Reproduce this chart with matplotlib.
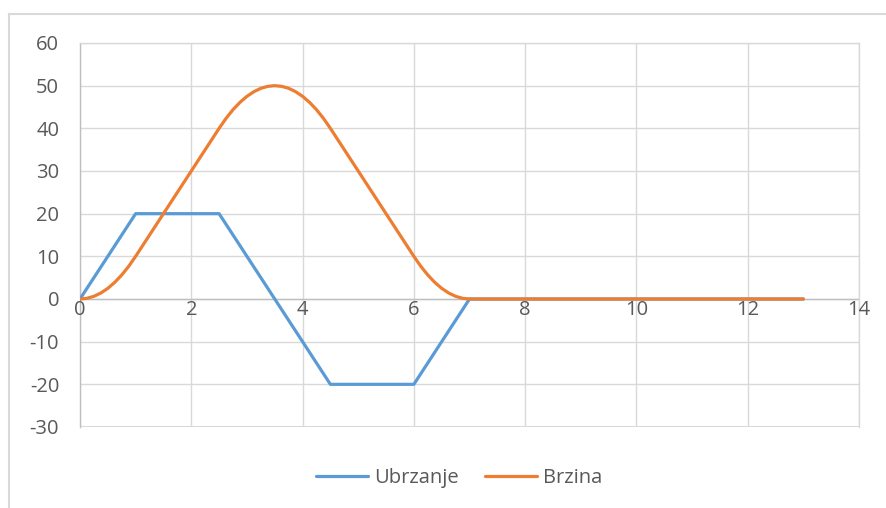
import matplotlib
matplotlib.use("Agg")
import matplotlib.pyplot as plt
from matplotlib.lines import Line2D

# Data
t_acc = [0, 1, 2.5, 4.5, 6, 7, 13]
ubrzanje = [0, 20, 20, -20, -20, 0, 0]

t_vel = [0, 0.125, 0.25, 0.375, 0.5, 0.625, 0.75, 0.875, 1,
         1.5, 2, 2.5,
         2.625, 2.75, 2.875, 3, 3.125, 3.25, 3.375, 3.5,
         3.625, 3.75, 3.875, 4, 4.125, 4.25, 4.375, 4.5,
         5, 5.5, 6,
         6.125, 6.25, 6.375, 6.5, 6.625, 6.75, 6.875, 7, 13]
brzina = [0, 0.16, 0.63, 1.41, 2.5, 3.91, 5.63, 7.66, 10,
          20, 30, 40,
          42.34, 44.38, 46.09, 47.5, 48.59, 49.38, 49.84, 50,
          49.84, 49.38, 48.59, 47.5, 46.09, 44.38, 42.34, 40,
          30, 20, 10,
          7.66, 5.63, 3.91, 2.5, 1.41, 0.63, 0.16, 0, 0]

x_ticks = [0, 2, 4, 6, 8, 10, 12, 14]
y_ticks = [-30, -20, -10, 0, 10, 20, 30, 40, 50, 60]

plt.rcParams['font.family'] = ['Open Sans', 'DejaVu Sans']
plt.rcParams['axes.unicode_minus'] = False

W, H = 887, 508
fig = plt.figure(figsize=(W / 100, H / 100), dpi=100)
ax = fig.add_axes([80 / W, (H - 427) / H, (859 - 80) / W, (427 - 43) / H])

grid_c = '#d9d9d9'
text_c = '#595959'
fs = 14.5

ax.plot(t_acc, ubrzanje, color='#5B9BD5', lw=2.3, label='Ubrzanje',
        solid_capstyle='round', solid_joinstyle='round', zorder=3)
ax.plot(t_vel, brzina, color='#ED7D31', lw=2.3, label='Brzina',
        solid_capstyle='round', solid_joinstyle='round', zorder=3)

ax.set_xlim(0, 14)
ax.set_ylim(-30, 60)
ax.set_xticks(x_ticks)
ax.set_yticks(y_ticks)
ax.grid(True, color=grid_c, lw=1.0, zorder=0)
ax.set_axisbelow(True)

for s in ['top', 'right']:
    ax.spines[s].set_color(grid_c)
    ax.spines[s].set_linewidth(1.0)
ax.spines['left'].set_color('#bfbfbf')
ax.spines['left'].set_linewidth(1.0)
ax.spines['bottom'].set_visible(False)
ax.axhline(0, color='#bfbfbf', lw=1.0, zorder=1)
ax.axhline(-30, color=grid_c, lw=1.5, zorder=1)

ax.tick_params(axis='both', length=0, labelsize=fs, colors=text_c)
ax.tick_params(axis='y', pad=15)

# x tick labels placed just below the zero line
ax.set_xticklabels([])
for xv in x_ticks:
    ax.text(xv, -0.3, str(xv), ha='center', va='top', fontsize=fs, color=text_c)

leg = fig.legend(loc='center', bbox_to_anchor=(459 / W, 1 - 478 / H), ncol=2,
                 frameon=False, fontsize=fs, handlelength=2.6, columnspacing=1.3,
                 handletextpad=0.3)
for txt in leg.get_texts():
    txt.set_color(text_c)
for ln in leg.get_lines():
    ln.set_linewidth(2.3)

# outer chart border
fig.add_artist(Line2D([9 / W, 9 / W], [0, 1 - 14 / H], transform=fig.transFigure,
                      color=grid_c, lw=1.5))
fig.add_artist(Line2D([9 / W, 1], [1 - 14 / H, 1 - 14 / H], transform=fig.transFigure,
                      color=grid_c, lw=1.5))

fig.savefig('out.png', dpi=100, facecolor='white')
